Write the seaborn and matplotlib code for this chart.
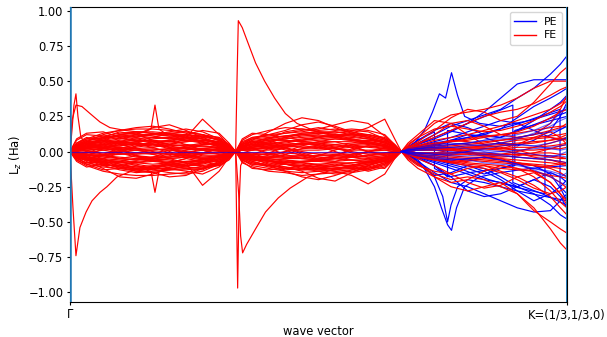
import numpy as np
import pandas as pd
import matplotlib
matplotlib.use("Agg")
import matplotlib.pyplot as plt
from matplotlib.lines import Line2D
import seaborn as sns

plt.rcParams["font.size"] = 8.3
plt.rcParams["xtick.major.size"] = 2.5
plt.rcParams["ytick.major.size"] = 2.5
plt.rcParams["xtick.major.pad"] = 2.2
plt.rcParams["ytick.major.pad"] = 2.2
plt.rcParams["axes.labelpad"] = 3.0

# ---------------- data (x in path units: Gamma = 0, K = 3) ----------------
TICK_POS = [0, 3]
TICK_LABELS = ["Γ", "K=(1/3,1/3,0)"]

# shared sampling fractions inside each path segment
SEG_F = [0, .04, .1, .2, .3, .4, .5, .6, .7, .8, .9, .96, 1.0]

# FE, segment 1 (Gamma -> 1/3): outer curves
FE_SEG1 = [
    [0, .05, .09, .13, .15, .16, .16, .15, .14, .12, .08, .04, 0],
    [0, -.06, -.10, -.14, -.16, -.17, -.17, -.16, -.15, -.12, -.09, -.04, 0],
    [0, .08, .12, .11, .09, .12, .17, .19, .15, .10, .06, .03, 0],
    [0, -.03, -.07, -.12, -.18, -.19, -.16, -.12, -.14, -.16, -.11, -.05, 0],
    [0, .02, .05, .08, .12, .14, .13, .11, .12, .15, .13, .06, 0],
    [0, -.02, -.04, -.08, -.10, -.13, -.15, -.18, -.17, -.12, -.07, -.03, 0],
    [0, .04, .06, .05, .04, .06, .09, .10, .08, .06, .05, .02, 0],
    [0, -.05, -.08, -.07, -.05, -.03, -.06, -.09, -.10, -.08, -.05, -.02, 0],
    [0, .01, .03, .10, .14, .12, .08, .05, .09, .11, .10, .05, 0],
    [0, -.01, -.02, -.05, -.09, -.12, -.11, -.08, -.05, -.07, -.10, -.06, 0],
    [0, .03, .07, .12, .15, .17, .18, .16, .13, .09, .05, .02, 0],
    [0, -.04, -.09, -.13, -.12, -.10, -.13, -.15, -.16, -.14, -.09, -.04, 0],
    [0, .06, .10, .08, .05, .02, -.02, -.05, -.04, -.01, .02, .01, 0],
    [0, -.02, -.03, .02, .06, .09, .07, .03, -.02, -.05, -.04, -.02, 0],
    [0, .02, .03, .04, .03, .02, .03, .05, .07, .08, .06, .03, 0],
    [0, -.01, -.02, -.03, -.05, -.06, -.04, -.02, -.03, -.05, -.04, -.02, 0],
    [0, .09, .13, .14, .10, .07, .10, .13, .11, .07, .04, .02, 0],
    [0, -.07, -.11, -.09, -.11, -.14, -.12, -.10, -.12, -.13, -.08, -.03, 0],
    [0, .01, .01, .02, .01, -.01, -.02, -.01, .01, .02, .01, .0, 0],
    [0, .01, .03, .05, .06, .07, .08, .07, .10, .23, .12, .04, 0],
    [0, -.02, -.04, -.06, -.08, -.07, -.06, -.05, -.08, -.24, -.14, -.04, 0],
    [0, .03, .05, .07, .06, .05, .04, .04, .05, .04, .03, .01, 0],
    [0, -.03, -.05, -.06, -.07, -.08, -.09, -.08, -.07, -.06, -.04, -.01, 0],
    [0, .04, .08, .10, .11, .10, .12, .14, .16, .14, .09, .04, 0],
    [0, -.05, -.06, -.10, -.13, -.15, -.14, -.13, -.10, -.09, -.06, -.03, 0],
]

# FE, segment 1: inner (dense core) curves
FE_SEG1_CORE = [
    [0, .02, .04, .06, .08, .09, .10, .10, .09, .08, .06, .03, 0],
    [0, -.02, -.04, -.07, -.08, -.09, -.11, -.10, -.09, -.08, -.05, -.03, 0],
    [0, .03, .06, .09, .11, .12, .12, .11, .10, .09, .07, .03, 0],
    [0, -.03, -.05, -.09, -.11, -.12, -.13, -.11, -.10, -.08, -.07, -.03, 0],
    [0, .01, .03, .05, .07, .10, .13, .12, .10, .07, .04, .02, 0],
    [0, -.01, -.03, -.06, -.07, -.10, -.12, -.12, -.11, -.07, -.04, -.02, 0],
    [0, .04, .07, .08, .07, .06, .05, .06, .07, .08, .07, .03, 0],
    [0, -.04, -.06, -.08, -.07, -.05, -.05, -.06, -.08, -.08, -.06, -.03, 0],
    [0, .02, .05, .09, .12, .13, .11, .09, .08, .10, .09, .04, 0],
    [0, -.02, -.05, -.08, -.12, -.13, -.12, -.09, -.08, -.11, -.09, -.04, 0],
    [0, .01, .02, .03, .04, .05, .06, .07, .08, .07, .05, .02, 0],
    [0, -.01, -.02, -.03, -.04, -.05, -.06, -.07, -.07, -.07, -.05, -.02, 0],
    [0, .05, .08, .10, .11, .11, .10, .09, .11, .12, .10, .05, 0],
    [0, -.05, -.08, -.10, -.10, -.11, -.10, -.09, -.11, -.12, -.10, -.05, 0],
    [0, .02, .03, .02, .01, .03, .05, .04, .02, .01, .02, .01, 0],
    [0, -.02, -.03, -.02, -.01, -.03, -.04, -.04, -.02, -.01, -.02, -.01, 0],
    [0, .03, .04, .05, .07, .08, .07, .05, .04, .05, .06, .03, 0],
    [0, -.03, -.04, -.05, -.06, -.08, -.07, -.05, -.04, -.05, -.06, -.03, 0],
    [0, .06, .09, .11, .13, .14, .14, .13, .12, .11, .08, .04, 0],
    [0, -.06, -.09, -.11, -.12, -.14, -.15, -.13, -.12, -.11, -.08, -.04, 0],
    [0, .01, .04, .08, .10, .08, .06, .08, .10, .11, .08, .03, 0],
    [0, -.01, -.04, -.07, -.10, -.08, -.06, -.08, -.10, -.10, -.08, -.03, 0],
    [0, .02, .05, .07, .09, .11, .12, .13, .14, .12, .08, .04, 0],
    [0, -.02, -.05, -.07, -.09, -.11, -.12, -.13, -.13, -.12, -.08, -.04, 0],
    [0, .01, .02, .04, .06, .06, .05, .03, .03, .04, .03, .01, 0],
    [0, -.01, -.02, -.04, -.05, -.06, -.05, -.04, -.03, -.04, -.03, -.01, 0],
]

# FE, segment 1: curves crossing zero
FE_SEG1_CROSS = [
    [0, .03, .05, .04, .01, -.03, -.05, -.04, -.01, .02, .03, .01, 0],
    [0, -.03, -.05, -.03, .01, .04, .05, .03, -.01, -.03, -.03, -.01, 0],
    [0, .01, .02, .01, -.01, -.02, -.01, .01, .02, .02, .01, .0, 0],
    [0, -.01, -.01, .01, .02, .01, -.01, -.02, -.01, .01, .01, .0, 0],
    [0, .04, .07, .06, .02, -.03, -.07, -.08, -.05, -.01, .02, .01, 0],
    [0, -.04, -.06, -.05, -.01, .04, .07, .08, .05, .01, -.02, -.01, 0],
    [0, .02, .01, -.02, -.05, -.06, -.04, .0, .04, .06, .04, .02, 0],
    [0, -.02, -.01, .03, .05, .05, .03, -.01, -.04, -.06, -.04, -.02, 0],
    [0, .0, .01, .02, .03, .02, .0, -.02, -.03, -.02, -.01, .0, 0],
    [0, .0, -.01, -.02, -.02, -.01, .01, .02, .03, .02, .01, .0, 0],
    [0, .05, .06, .03, -.01, -.04, -.05, -.03, .01, .05, .05, .02, 0],
    [0, -.05, -.05, -.02, .02, .05, .05, .02, -.02, -.04, -.04, -.02, 0],
    [0, .01, .0, -.01, .0, .01, .02, .01, .0, -.01, .0, .0, 0],
    [0, .02, .03, .03, .02, .01, .01, .02, .02, .01, .01, .0, 0],
    [0, -.02, -.03, -.03, -.02, -.01, -.01, -.02, -.02, -.01, -.01, .0, 0],
]

# FE, segment 2: outer curves
FE_SEG2 = [
    [0, .08, .12, .15, .17, .16, .15, .16, .14, .12, .09, .04, 0],
    [0, -.08, -.11, -.14, -.15, -.17, -.16, -.15, -.14, -.12, -.08, -.04, 0],
    [0, .03, .08, .14, .20, .24, .22, .17, .13, .10, .06, .03, 0],
    [0, -.04, -.07, -.10, -.14, -.18, -.20, -.17, -.13, -.10, -.06, -.03, 0],
    [0, .05, .09, .12, .13, .14, .16, .19, .22, .20, .11, .04, 0],
    [0, -.02, -.05, -.09, -.12, -.13, -.12, -.14, -.17, -.23, -.16, -.05, 0],
    [0, .02, .06, .10, .11, .12, .11, .10, .13, .17, .23, .09, 0],
    [0, -.06, -.09, -.10, -.09, -.11, -.13, -.12, -.10, -.08, -.05, -.02, 0],
    [0, .04, .06, .08, .10, .12, .13, .14, .12, .10, .07, .03, 0],
    [0, -.03, -.06, -.08, -.11, -.14, -.19, -.21, -.15, -.10, -.06, -.03, 0],
    [0, .06, .10, .12, .15, .19, .21, .18, .14, .11, .08, .04, 0],
    [0, -.01, -.03, -.06, -.09, -.10, -.09, -.08, -.09, -.11, -.12, -.05, 0],
    [0, .02, .04, .06, .07, .08, .09, .10, .09, .07, .05, .02, 0],
    [0, -.02, -.04, -.05, -.06, -.07, -.06, -.05, -.06, -.07, -.05, -.02, 0],
    [0, .09, .13, .12, .10, .08, .10, .12, .11, .12, .10, .05, 0],
    [0, -.07, -.12, -.13, -.12, -.10, -.11, -.13, -.12, -.13, -.10, -.04, 0],
    [0, .01, .02, .03, .05, .06, .04, .03, .05, .06, .04, .02, 0],
    [0, -.01, .01, .04, .03, -.02, -.05, -.03, .02, .04, .02, .01, 0],
    [0, .05, .07, .06, .04, .05, .07, .09, .08, .06, .04, .02, 0],
    [0, -.05, -.08, -.11, -.13, -.12, -.10, -.09, -.11, -.14, -.11, -.04, 0],
    [0, .03, .05, .09, .14, .16, .14, .13, .15, .14, .09, .04, 0],
    [0, -.03, -.05, -.07, -.08, -.09, -.11, -.12, -.11, -.09, -.07, -.03, 0],
    [0, .07, .10, .11, .13, .15, .17, .15, .16, .15, .12, .05, 0],
    [0, -.06, -.10, -.12, -.14, -.15, -.14, -.16, -.15, -.13, -.09, -.04, 0],
]

# FE, segment 2: inner (dense core) curves
FE_SEG2_CORE = [
    [0, .03, .05, .07, .09, .10, .11, .11, .10, .09, .06, .03, 0],
    [0, -.03, -.05, -.07, -.09, -.10, -.11, -.10, -.10, -.08, -.06, -.03, 0],
    [0, .04, .07, .09, .11, .12, .13, .12, .11, .09, .07, .03, 0],
    [0, -.04, -.07, -.10, -.11, -.12, -.12, -.12, -.11, -.09, -.07, -.03, 0],
    [0, .02, .03, .05, .07, .09, .10, .12, .12, .10, .07, .03, 0],
    [0, -.02, -.03, -.05, -.07, -.08, -.10, -.11, -.12, -.10, -.07, -.03, 0],
    [0, .05, .08, .09, .08, .07, .08, .09, .08, .07, .05, .02, 0],
    [0, -.05, -.08, -.09, -.08, -.07, -.07, -.08, -.08, -.07, -.05, -.02, 0],
    [0, .01, .03, .06, .10, .13, .14, .12, .09, .07, .05, .02, 0],
    [0, -.01, -.03, -.06, -.09, -.12, -.14, -.13, -.10, -.07, -.05, -.02, 0],
    [0, .02, .03, .04, .05, .06, .06, .07, .07, .06, .04, .02, 0],
    [0, -.02, -.03, -.04, -.05, -.05, -.06, -.07, -.06, -.06, -.04, -.02, 0],
    [0, .06, .09, .10, .11, .13, .14, .14, .13, .11, .08, .04, 0],
    [0, -.06, -.09, -.10, -.12, -.13, -.13, -.14, -.13, -.11, -.08, -.04, 0],
    [0, .01, .02, .02, .03, .04, .03, .02, .03, .04, .03, .01, 0],
    [0, -.01, -.02, -.02, -.03, -.03, -.03, -.02, -.03, -.04, -.03, -.01, 0],
    [0, .03, .06, .08, .08, .07, .06, .05, .06, .08, .07, .03, 0],
    [0, -.03, -.06, -.07, -.08, -.07, -.06, -.05, -.06, -.08, -.07, -.03, 0],
    [0, .02, .04, .07, .09, .11, .12, .10, .08, .08, .06, .03, 0],
    [0, -.02, -.04, -.07, -.09, -.10, -.12, -.10, -.08, -.08, -.06, -.03, 0],
    [0, .04, .05, .05, .06, .08, .10, .11, .12, .12, .09, .04, 0],
    [0, -.04, -.05, -.06, -.06, -.08, -.09, -.11, -.12, -.12, -.09, -.04, 0],
    [0, .01, .01, .03, .04, .05, .05, .04, .04, .05, .04, .02, 0],
    [0, -.01, -.01, -.03, -.04, -.04, -.05, -.04, -.04, -.05, -.04, -.02, 0],
]

# FE, segment 2: curves crossing zero
FE_SEG2_CROSS = [
    [0, .02, .04, .05, .03, -.01, -.04, -.05, -.03, .0, .02, .01, 0],
    [0, -.02, -.04, -.04, -.02, .02, .04, .05, .03, .0, -.02, -.01, 0],
    [0, .04, .05, .02, -.02, -.05, -.06, -.03, .01, .04, .04, .02, 0],
    [0, -.04, -.04, -.01, .03, .06, .06, .03, -.01, -.04, -.04, -.02, 0],
    [0, .01, .02, .03, .02, .0, -.02, -.03, -.02, .0, .01, .0, 0],
    [0, -.01, -.02, -.02, .0, .02, .03, .02, .0, -.02, -.01, .0, 0],
    [0, .03, .02, -.01, -.04, -.05, -.03, .01, .05, .06, .04, .02, 0],
    [0, -.03, -.02, .02, .05, .06, .04, .0, -.04, -.06, -.04, -.02, 0],
    [0, .01, .01, .01, .02, .01, .01, .02, .01, .01, .01, .0, 0],
    [0, -.01, -.01, -.01, -.01, -.02, -.01, -.01, -.02, -.01, -.01, .0, 0],
    [0, .05, .07, .05, .01, -.03, -.06, -.07, -.04, .0, .03, .01, 0],
    [0, -.05, -.06, -.04, .0, .04, .07, .07, .04, .0, -.03, -.01, 0],
    [0, .02, .03, .04, .04, .03, .02, .03, .04, .03, .02, .01, 0],
    [0, -.02, -.03, -.04, -.04, -.03, -.03, -.03, -.04, -.03, -.02, -.01, 0],
]

# FE, segment 3
FE_SEG3 = [
    [0, .04, .10, .20, .26, .28, .30, .33, .38, .45, .50, .50, .50],
    [0, -.04, -.09, -.16, -.20, -.18, -.20, -.25, -.30, -.40, -.55, -.65, -.70],
    [0, .03, .07, .15, .24, .30, .28, .22, .25, .35, .48, .56, .60],
    [0, -.03, -.08, -.18, -.25, -.28, -.25, -.22, -.30, -.42, -.50, -.55, -.58],
    [0, .05, .10, .16, .18, .16, .14, .15, .18, .22, .28, .32, .36],
    [0, -.05, -.10, -.14, -.16, -.12, -.10, -.14, -.18, -.24, -.32, -.40, -.45],
    [0, .02, .05, .12, .20, .22, .18, .12, .10, .12, .20, .30, .40],
    [0, -.02, -.05, -.10, -.16, -.22, -.26, -.24, -.18, -.15, -.22, -.30, -.35],
    [0, .02, .04, .08, .10, .12, .15, .18, .22, .26, .30, .34, .38],
    [0, -.02, -.04, -.06, -.08, -.10, -.12, -.15, -.20, -.26, -.30, -.28, -.25],
    [0, .01, .03, .05, .07, .08, .10, .12, .14, .18, .24, .28, .30],
    [0, -.01, -.03, -.05, -.06, -.08, -.09, -.10, -.12, -.14, -.18, -.22, -.26],
    [0, .01, .02, .03, .04, .05, .06, .08, .10, .12, .15, .17, .20],
    [0, -.01, -.02, -.03, -.04, -.05, -.06, -.07, -.08, -.10, -.12, -.15, -.18],
    [0, .01, .01, .02, .02, .03, .03, .04, .05, .06, .08, .10, .12],
    [0, -.01, -.01, -.01, -.02, -.02, -.03, -.03, -.04, -.05, -.06, -.07, -.08],
    [0, .0, .01, .01, .01, .02, .02, .02, .03, .03, .04, .05, .06],
    [0, -.0, -.01, -.01, -.01, -.01, -.02, -.02, -.02, -.03, -.03, -.04, -.05],
    [0, .06, .12, .22, .20, .12, .05, .02, .05, .10, .14, .10, .05],
    [0, -.06, -.12, -.18, -.22, -.20, -.14, -.10, -.12, -.18, -.28, -.36, -.40],
    [0, .03, .06, .10, .15, .20, .25, .28, .30, .34, .40, .44, .46],
    [0, -.02, -.03, -.05, -.07, -.06, -.04, -.05, -.08, -.14, -.22, -.30, -.38],
    [0, .01, .02, .04, .05, .06, .07, .08, .09, .10, .11, .12, .13],
    [0, -.01, -.02, -.04, -.05, -.06, -.07, -.08, -.09, -.10, -.11, -.12, -.13],
    [0, .02, .04, .06, .07, .09, .11, .12, .13, .15, .17, .18, .18],
    [0, -.02, -.04, -.06, -.07, -.09, -.10, -.12, -.13, -.14, -.17, -.18, -.19],
    [0, .01, .03, .05, .08, .07, .05, .06, .08, .09, .10, .09, .08],
    [0, -.01, -.03, -.05, -.08, -.07, -.05, -.06, -.08, -.09, -.10, -.09, -.08],
    [0, .0, .01, .02, .03, .04, .04, .05, .06, .07, .08, .09, .10],
    [0, -.0, -.01, -.02, -.03, -.04, -.04, -.05, -.06, -.07, -.08, -.09, -.10],
    [0, .01, .02, .02, .01, -.01, -.03, -.04, -.03, -.01, .02, .04, .05],
    [0, -.01, -.02, -.01, .01, .03, .04, .03, .01, -.02, -.04, -.05, -.05],
    [0, .02, .03, .03, .02, .0, -.02, -.02, .0, .03, .06, .08, .09],
    [0, -.02, -.03, -.03, -.01, .01, .02, .01, -.01, -.04, -.06, -.08, -.09],
    [0, .0, .01, .01, .01, .01, .02, .02, .01, .01, .02, .02, .03],
    [0, .0, -.01, -.01, -.01, -.01, -.01, -.02, -.02, -.01, -.01, -.02, -.02],
]

# PE, segment 3: larger-amplitude curves (drawn beneath FE)
PE_SEG3 = [
    [0, .03, .06, .12, .18, .22, .26, .30, .38, .45, .55, .62, .68],
    [0, -.03, -.07, -.15, -.22, -.25, -.30, -.35, -.40, -.43, -.42, -.35, -.30],
    [0, .02, .05, .09, .14, .20, .28, .38, .48, .51, .51, .51, .51],
    [0, -.02, -.04, -.08, -.12, -.16, -.20, -.22, -.25, -.30, -.38, -.45, -.48],
    [0, .03, .08, .15, .20, .17, .12, .10, .15, .22, .30, .35, .40],
    [0, -.04, -.09, -.17, -.15, -.10, -.12, -.18, -.25, -.20, -.15, -.18, -.22],
    [0, .01, .03, .05, .08, .12, .10, .06, .04, .08, .15, .25, .35],
    [0, -.01, -.02, -.05, -.08, -.10, -.14, -.20, -.28, -.35, -.30, -.25, -.20],
    [0, .02, .04, .07, .10, .14, .18, .22, .20, .15, .10, .08, .10],
    [0, -.02, -.05, -.10, -.18, -.28, -.32, -.30, -.25, -.20, -.25, -.32, -.40],
    [0, .02, .04, .06, .08, .10, .12, .16, .24, .32, .38, .42, .45],
    [0, -.02, -.04, -.06, -.09, -.12, -.16, -.12, -.08, -.10, -.16, -.26, -.35],
]

# PE, segment 3: small-amplitude curves (drawn above FE)
PE_SEG3_SMALL = [
    [0, .01, .02, .04, .05, .06, .08, .10, .12, .15, .20, .28, .32],
    [0, -.01, -.03, -.04, -.06, -.05, -.04, -.06, -.09, -.12, -.15, -.18, -.15],
    [0, .01, .02, .03, .03, .04, .05, .06, .05, .04, .06, .08, .10],
    [0, -.01, -.01, -.02, -.03, -.03, -.02, -.03, -.04, -.05, -.06, -.07, -.08],
    [0, .01, .02, .03, .05, .06, .08, .09, .10, .12, .14, .16, .18],
    [0, -.01, -.02, -.03, -.05, -.06, -.08, -.09, -.10, -.12, -.14, -.16, -.18],
    [0, .02, .03, .05, .06, .05, .04, .06, .09, .13, .18, .22, .24],
    [0, -.02, -.03, -.05, -.06, -.05, -.04, -.06, -.09, -.13, -.18, -.22, -.24],
    [0, .01, .01, .02, .03, .02, .0, -.02, -.04, -.05, -.04, -.02, .0],
    [0, -.01, -.01, -.02, -.02, .0, .02, .04, .05, .04, .02, .01, .02],
    [0, .0, .01, .01, .0, -.01, -.01, .0, .01, .02, .03, .04, .05],
    [0, .0, -.01, -.01, -.01, .0, .01, .0, -.01, -.02, -.03, -.03, -.04],
]

# individually read FE curves with sharp features
FE_SPIKE_GAMMA_X = [0, .012, .024, .036, .048, .066, .097, .241, .543, .845, 1.0]
FE_SPIKE_GAMMA_Y = [0, .15, .33, .41, .25, .10, .06, .07, .05, .03, 0]
FE_HUMP_GAMMA_X = [0, .012, .036, .072, .121, .181, .241, .332, .483, .724, .936, 1.0]
FE_HUMP_GAMMA_Y = [0, .22, .33, .32, .27, .21, .17, .15, .13, .11, .05, 0]
FE_DIP_GAMMA_X = [0, .018, .036, .060, .097, .133, .181, .223, .284, .392, .604, .845, 1.0]
FE_DIP_GAMMA_Y = [0, -.40, -.74, -.54, -.43, -.35, -.29, -.25, -.18, -.13, -.09, -.05, 0]
FE_MID1_X = [0, .121, .302, .453, .489, .513, .537, .573, .724, 1.0]
FE_MID1_UP_Y = [0, .08, .12, .14, .16, .33, .16, .13, .09, 0]
FE_MID1_DN_Y = [0, -.07, -.11, -.13, -.14, -.29, -.14, -.12, -.08, 0]
FE_BIG_UP_X = [1.0, 1.008, 1.016, 1.04, 1.075, 1.12, 1.175, 1.235, 1.30, 1.37, 1.49, 1.67, 1.85, 2.0]
FE_BIG_UP_Y = [0, .5, .93, .88, .77, .63, .50, .38, .27, .20, .14, .09, .05, 0]
FE_BIG_DN_X = [1.0, 1.006, 1.012, 1.02, 1.03, 1.05, 1.14, 1.38, 2.0]
FE_BIG_DN_Y = [0, -.5, -.97, -.4, -.1, -.05, -.06, -.08, 0]
FE_DIP2_X = [1.0, 1.018, 1.03, 1.042, 1.066, 1.12, 1.18, 1.257, 1.329, 1.437, 1.617, 1.856, 2.0]
FE_DIP2_Y = [0, -.30, -.60, -.72, -.66, -.55, -.43, -.33, -.26, -.18, -.12, -.06, 0]

# individually read PE curves (with band-crossing jumps)
PE_ZERO_X = [0, 2.0]
PE_ZERO_Y = [0, 0]
PE_HUMP_X = [2.0, 2.079, 2.139, 2.188, 2.230, 2.267, 2.303, 2.339, 2.382, 2.473, 2.594, 2.776, 3.0]
PE_HUMP_Y = [0, .06, .15, .28, .41, .38, .56, .40, .25, .20, .18, .22, .30]
PE_DIP_X = [2.0, 2.079, 2.139, 2.2, 2.242, 2.279, 2.303, 2.333, 2.382, 2.473, 2.594, 2.776, 3.0]
PE_DIP_Y = [0, -.05, -.12, -.25, -.40, -.52, -.56, -.40, -.25, -.18, -.15, -.12, -.10]
PE_DIP_B_X = [2.0, 2.1, 2.2, 2.25, 2.279, 2.30, 2.34, 2.4, 2.5, 2.7, 3.0]
PE_DIP_B_Y = [0, -.06, -.18, -.32, -.50, -.38, -.25, -.20, -.22, -.28, -.35]
PE_JUMP1_X = [2.0, 2.1, 2.2, 2.2, 2.29, 2.41, 2.594, 2.685, 2.685, 2.836, 3.0]
PE_JUMP1_Y = [0, .08, .14, -.12, -.18, -.15, -.12, -.10, .15, .20, .25]
PE_JUMP2_X = [2.0, 2.17, 2.35, 2.53, 2.715, 2.867, 2.867, 3.0]
PE_JUMP2_Y = [0, -.06, -.12, -.20, -.26, -.30, .10, .18]
PE_JUMP3_X = [2.0, 2.23, 2.47, 2.715, 2.958, 2.958, 3.0]
PE_JUMP3_Y = [0, .05, .12, .20, .30, -.25, -.30]
PE_JUMP4_X = [2.0, 2.1, 2.2, 2.279, 2.279, 2.41, 2.594, 2.776, 3.0]
PE_JUMP4_Y = [0, -.04, -.10, -.18, .15, .12, .10, .18, .28]
PE_JUMP5_X = [2.0, 2.2, 2.4, 2.673, 2.673, 2.85, 3.0]
PE_JUMP5_Y = [0, .10, .20, .33, -.22, -.30, -.38]

# ---------------- build long tables ----------------
def build(specs, seg_sets):
    rows = []
    uid = 0
    for kind, seg, curves in seg_sets:
        xs = [seg + f for f in SEG_F]
        for c in curves:
            for xv, yv in zip(xs, c):
                rows.append((kind, uid, xv, yv))
            uid += 1
    for kind, xs, ys in specs:
        for xv, yv in zip(xs, ys):
            rows.append((kind, uid, xv, yv))
        uid += 1
    return pd.DataFrame(rows, columns=["kind", "band", "k", "Lz"])


# layer 1: PE beneath, then FE
df_base = build(
    [("PE", PE_HUMP_X, PE_HUMP_Y), ("PE", PE_DIP_X, PE_DIP_Y), ("PE", PE_DIP_B_X, PE_DIP_B_Y),
     ("PE", PE_JUMP1_X, PE_JUMP1_Y), ("PE", PE_JUMP2_X, PE_JUMP2_Y),
     ("PE", PE_JUMP3_X, PE_JUMP3_Y), ("PE", PE_JUMP4_X, PE_JUMP4_Y),
     ("PE", PE_JUMP5_X, PE_JUMP5_Y),
     ("FE", FE_SPIKE_GAMMA_X, FE_SPIKE_GAMMA_Y), ("FE", FE_HUMP_GAMMA_X, FE_HUMP_GAMMA_Y),
     ("FE", FE_DIP_GAMMA_X, FE_DIP_GAMMA_Y), ("FE", FE_MID1_X, FE_MID1_UP_Y),
     ("FE", FE_MID1_X, FE_MID1_DN_Y), ("FE", FE_BIG_UP_X, FE_BIG_UP_Y),
     ("FE", FE_BIG_DN_X, FE_BIG_DN_Y), ("FE", FE_DIP2_X, FE_DIP2_Y)],
    [("PE", 2, PE_SEG3),
     ("FE", 0, FE_SEG1), ("FE", 0, FE_SEG1_CORE), ("FE", 0, FE_SEG1_CROSS),
     ("FE", 1, FE_SEG2), ("FE", 1, FE_SEG2_CORE), ("FE", 1, FE_SEG2_CROSS),
     ("FE", 2, FE_SEG3)],
)
# layer 2: small PE curves above the FE band
df_top = build([("PE", PE_ZERO_X, PE_ZERO_Y)], [("PE", 2, PE_SEG3_SMALL)])

# ---------------- plot ----------------
fig = plt.figure(figsize=(6.07, 3.37), dpi=100)
ax = fig.add_axes([0.1153, 0.1047, 0.9341 - 0.1153, 0.978 - 0.1047])

palette = {"PE": "blue", "FE": "red"}
sns.lineplot(data=df_base, x="k", y="Lz", hue="kind", hue_order=["PE", "FE"],
             units="band", estimator=None, sort=False, palette=palette,
             linewidth=0.85, legend=False, ax=ax)
sns.lineplot(data=df_top, x="k", y="Lz", hue="kind", palette=palette,
             units="band", estimator=None, sort=False, alpha=0.6,
             linewidth=0.85, legend=False, ax=ax)

ax.axvline(TICK_POS[0], color="#1f77b4", linewidth=1.8, zorder=3)
ax.axvline(TICK_POS[1], color="#1f77b4", linewidth=1.4, zorder=3)

ax.set_xlim(TICK_POS[0], TICK_POS[1])
ax.set_ylim(-1.067, 1.024)
ax.set_xticks(TICK_POS)
ax.set_xticklabels(TICK_LABELS)
ax.set_yticks([-1.0, -0.75, -0.5, -0.25, 0.0, 0.25, 0.5, 0.75, 1.0])
ax.set_xlabel("wave vector")
ax.set_ylabel("L$_z$ (Ha)")

handles = [Line2D([0], [0], color="blue", lw=1.0), Line2D([0], [0], color="red", lw=1.0)]
ax.legend(handles, ["PE", "FE"], loc="upper right", fontsize=7.8,
          borderaxespad=0.45, handlelength=2.0, labelspacing=0.35)

fig.savefig("out.png", dpi=100)
